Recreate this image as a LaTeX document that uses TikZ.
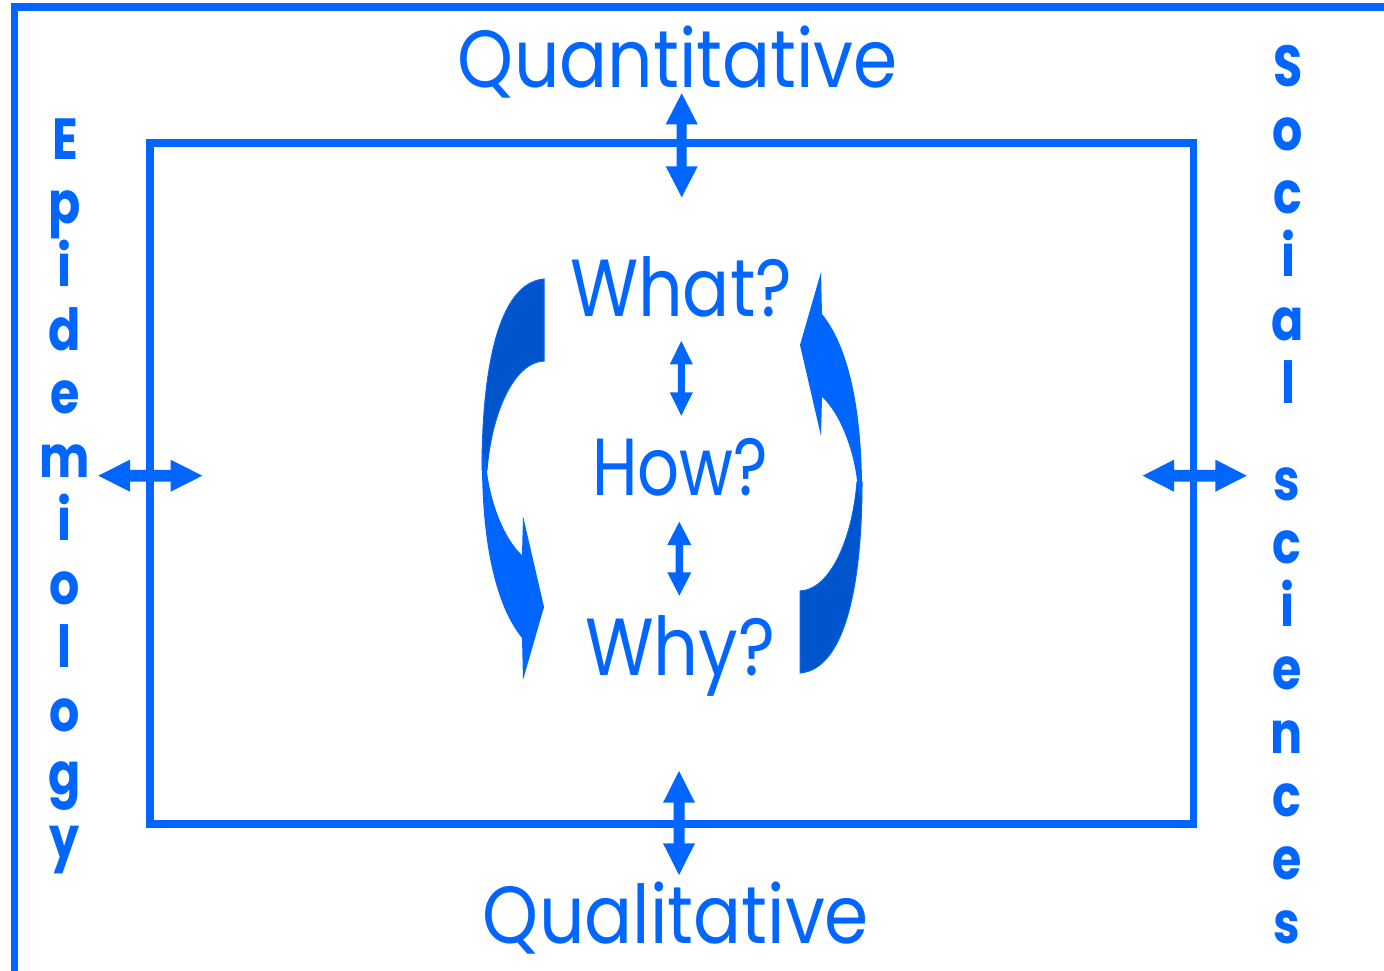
\documentclass[tikz,border=0pt]{standalone}
\usepackage{fontspec}
\setmainfont{Poppins}
\usepackage{graphicx}
\definecolor{mblue}{RGB}{0,102,255}
\definecolor{dblue}{RGB}{0,85,204}
\newcommand{\fitw}[2]{\resizebox{#1}{\height}{#2}}
\newcommand{\narrow}[1]{\scalebox{0.82}[1]{#1}}
% vertical block double arrow: x, ytop, ybottom, head length, head half width, shaft half width
\newcommand{\vdarr}[6]{\fill[mblue] (#1,#2) -- (#1+#5,#2+#4) -- (#1+#6,#2+#4) -- (#1+#6,#3-#4) -- (#1+#5,#3-#4) -- (#1,#3) -- (#1-#5,#3-#4) -- (#1-#6,#3-#4) -- (#1-#6,#2+#4) -- (#1-#5,#2+#4) -- cycle;}
% horizontal block double arrow: y, xleft, xright, head length, head half width, shaft half width
\newcommand{\hdarr}[6]{\fill[mblue] (#2,#1) -- (#2+#4,#1-#5) -- (#2+#4,#1-#6) -- (#3-#4,#1-#6) -- (#3-#4,#1-#5) -- (#3,#1) -- (#3-#4,#1+#5) -- (#3-#4,#1+#6) -- (#2+#4,#1+#6) -- (#2+#4,#1+#5) -- cycle;}
\tikzset{
  frame/.style={draw=mblue, line width=7.5pt, line join=miter},
  maintext/.style={text=mblue, inner sep=0pt, anchor=base, font=\fontsize{81}{90}\selectfont},
  vletter/.style={text=mblue, inner sep=0pt, anchor=base, font=\fontsize{58}{64}\selectfont\bfseries},
  curvedark/.style={fill=dblue, draw=mblue, line width=1pt},
  curvelight/.style={fill=mblue},
}
\begin{document}
\begin{tikzpicture}[x=1pt,y=-1pt]
\useasboundingbox (0,0) rectangle (1384,971);
\fill[white] (0,0) rectangle (1384,971);
% outer frame (only left and top visible)
\draw[frame] (1400,7) -- (14.5,7) -- (14.5,990);
% inner rectangle
\draw[frame] (150,143) rectangle (1193.7,824);
% block double arrows
\vdarr{681.7}{93.3}{197.3}{31}{16}{5}
\vdarr{679}{771}{875}{31.7}{16}{5.5}
\hdarr{475.7}{98.3}{202.3}{31.7}{16}{5.8}
\hdarr{475.7}{1142.7}{1246.7}{31.3}{16}{5.8}
\vdarr{681.3}{341}{415.7}{23.3}{11.5}{3.5}
\vdarr{679.3}{521.7}{595.7}{23.3}{12}{3.7}
% left curved arrow
\fill[curvedark] (544,279) -- (544,361) .. controls (515,362) and (492,410) .. (487,470) -- (482,470) .. controls (482,370) and (498,283) .. (544,279) -- cycle;
\fill[curvelight] (482,452) .. controls (481,540) and (495,605) .. (522,638) -- (523,680) -- (544,607) -- (523,516) -- (522,555) .. controls (505,540) and (488,500) .. (486,460) -- cycle;
% right curved arrow (point reflection of the left one)
\begin{scope}[rotate around={180:(672,476)}]
\fill[curvedark] (544,279) -- (544,361) .. controls (515,362) and (492,410) .. (487,470) -- (482,470) .. controls (482,370) and (498,283) .. (544,279) -- cycle;
\fill[curvelight] (482,452) .. controls (481,540) and (495,605) .. (522,638) -- (523,680) -- (544,607) -- (523,516) -- (522,555) .. controls (505,540) and (488,500) .. (486,460) -- cycle;
\end{scope}
% texts
\node[maintext] (quant) at (678,88) {\fitw{440pt}{Quantitative}};
\node[maintext] (qual) at (676,943) {\fitw{386pt}{Qualitative}};
\node[maintext] (what) at (681,316) {\fitw{222pt}{What?}};
\node[maintext] (how) at (680,495) {\fitw{176pt}{How?}};
\node[maintext] (why) at (680,675) {\fitw{190pt}{Why?}};
% vertical words
\foreach \ch [count=\k from 0] in {E,p,i,d,e,m,i,o,l,o,g,y}
  \node[vletter] (epi\k) at (65,159.5+63.5*\k) {\narrow{\ch}};
\foreach \ch [count=\k from 0] in {S,o,c,i,a,l}
  \node[vletter] (soca\k) at (1288,86.8+63.3*\k) {\narrow{\ch}};
\foreach \ch [count=\k from 0] in {s,c,i,e,n,c,e,s}
  \node[vletter] (socb\k) at (1287,500+63.3*\k) {\narrow{\ch}};
\end{tikzpicture}
\end{document}
